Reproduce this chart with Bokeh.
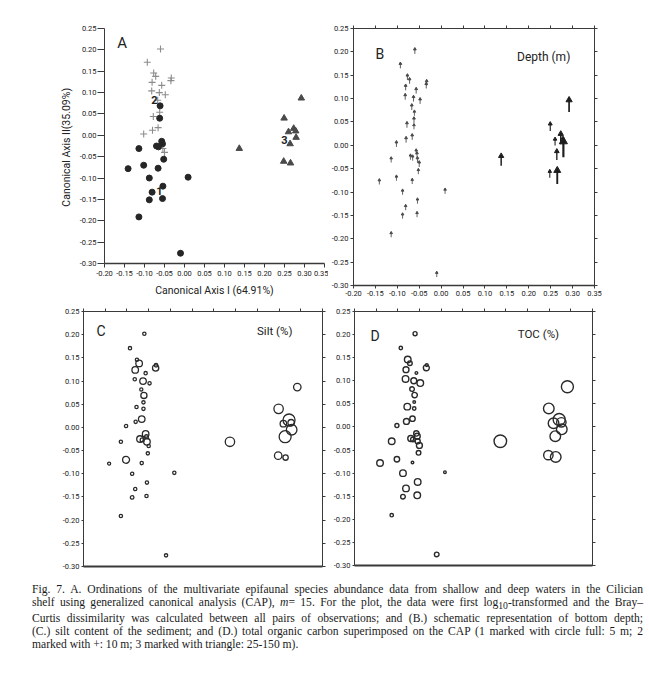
from bokeh.plotting import figure
from bokeh.models import Range1d, FixedTicker, NumeralTickFormatter, LinearAxis, Label, Div, ColumnDataSource
from bokeh.layouts import column, row
from bokeh.embed import file_html
from bokeh.resources import INLINE

# ---------------- data ----------------
x_ticks = [-0.20, -0.15, -0.10, -0.05, 0.00, 0.05, 0.10, 0.15, 0.20, 0.25, 0.30, 0.35]
y_ticks = [-0.30, -0.25, -0.20, -0.15, -0.10, -0.05, 0.00, 0.05, 0.10, 0.15, 0.20, 0.25]

axis1 = [-0.060, -0.093, -0.077, -0.072, -0.081, -0.033, -0.034, -0.057, -0.082, -0.063,
         -0.048, -0.067, -0.061, -0.062, -0.078, -0.062, -0.066, -0.080, -0.102, -0.057,
         -0.055, -0.070, -0.065, -0.054, -0.050, -0.114, -0.052, -0.102, -0.141, -0.066,
         -0.088, 0.009, -0.054, -0.081, -0.088, -0.055, -0.114, -0.010,
         0.292, 0.249, 0.273, 0.260, 0.278, 0.279, 0.264, 0.137, 0.248, 0.265]
axis2 = [0.202, 0.171, 0.146, 0.138, 0.124, 0.134, 0.128, 0.117, 0.104, 0.100,
         0.095, 0.082, 0.069, 0.054, 0.044, 0.040, 0.018, 0.012, 0.003, -0.014,
         -0.020, -0.025, -0.027, -0.031, -0.040, -0.031, -0.056, -0.070, -0.078, -0.077,
         -0.100, -0.098, -0.119, -0.133, -0.151, -0.148, -0.191, -0.276,
         0.087, 0.040, 0.016, 0.008, 0.010, -0.005, -0.020, -0.031, -0.061, -0.065]
group = [2, 2, 2, 2, 2, 2, 2, 2, 2, 2,
         2, 2, 1, 2, 2, 1, 2, 2, 2, 1,
         1, 1, 1, 2, 2, 1, 1, 1, 1, 1,
         1, 1, 1, 1, 1, 1, 1, 1,
         3, 3, 3, 3, 3, 3, 3, 3, 3, 3]
depth_m = [10, 10, 10, 10, 10, 10, 10, 10, 10, 10,
           10, 10, 5, 10, 10, 5, 10, 10, 10, 5,
           5, 5, 5, 10, 10, 5, 5, 5, 5, 5,
           5, 5, 5, 5, 5, 5, 5, 5,
           100, 40, 80, 30, 30, 150, 60, 75, 30, 120]
silt_pct = [10, 10, 10, 35, 35, 12, 33, 10, 10, 35,
            10, 9, 32, 10, 10, 10, 35, 10, 10, 35,
            14, 35, 15, 35, 10, 10, 10, 38, 8, 10,
            10, 10, 10, 10, 12, 10, 10, 10,
            42, 57, 77, 35, 35, 66, 77, 57, 42, 26]
toc_pct = [0.23, 0.16, 0.52, 0.30, 0.45, 0.10, 0.45, 0.07, 0.52, 0.45,
           0.52, 0.30, 0.39, 0.07, 0.52, 0.16, 0.39, 0.45, 0.23, 0.39,
           0.45, 0.45, 0.30, 0.35, 0.45, 0.52, 0.30, 0.39, 0.52, 0.07,
           0.52, 0.07, 0.52, 0.52, 0.30, 0.52, 0.16, 0.30,
           1.14, 0.98, 1.14, 0.98, 0.84, 0.98, 0.98, 1.20, 0.84, 0.98]

caption_lines = [
    "Fig. 7. A. Ordinations of the multivariate epifaunal species abundance data from shallow and deep waters in the Cilician",
    "shelf using generalized canonical analysis (CAP), <i>m</i>= 15. For the plot, the data were first log<sub>10</sub>-transformed and the Bray\u2013",
    "Curtis dissimilarity was calculated between all pairs of observations; and (B.) schematic representation of bottom depth;",
    "(C.) silt content of the sediment; and (D.) total organic carbon superimposed on the CAP (1 marked with circle full: 5 m; 2",
    "marked with +: 10 m; 3 marked with triangle: 25-150 m).",
]

# ---------------- styling helpers ----------------
FONT = "Roboto"
AX = "#3a3a3a"
XR = (-0.20, 0.35)
YR = (-0.30, 0.25)


def make_fig(fw, fh, bl, br, bt, bb, outline=True):
    p = figure(frame_width=fw, frame_height=fh,
               min_border_left=bl, min_border_right=br,
               min_border_top=bt, min_border_bottom=bb,
               x_range=Range1d(*XR), y_range=Range1d(*YR),
               output_backend="svg", toolbar_location=None, tools="")
    p.grid.visible = False
    p.outline_line_color = AX if outline else None
    p.outline_line_width = 1
    p.background_fill_color = "white"
    p.border_fill_color = "white"
    return p


def style_axis(ax, ticks, labels=True, tick_out=3, width=1.0):
    ax.ticker = FixedTicker(ticks=ticks)
    ax.formatter = NumeralTickFormatter(format="0.00")
    ax.major_tick_out = tick_out
    ax.major_tick_in = 0
    ax.minor_tick_line_color = None
    ax.axis_line_color = AX
    ax.axis_line_width = width
    ax.major_tick_line_color = AX
    ax.major_label_text_font = FONT
    ax.major_label_text_font_size = "7.5px"
    ax.major_label_text_color = "#222222"
    ax.major_label_standoff = 2
    if not labels:
        ax.major_label_text_color = None
        ax.major_label_text_font_size = "1px"
        ax.major_label_standoff = 0


def add_frame_axes(p, top=True, right=True):
    if top:
        a = LinearAxis()
        style_axis(a, x_ticks, labels=False, tick_out=3)
        p.add_layout(a, "above")
    if right:
        a = LinearAxis()
        style_axis(a, y_ticks, labels=False, tick_out=3)
        p.add_layout(a, "right")


def panel_label(p, x, y, text, size="14px", align="left", bold=False):
    p.add_layout(Label(x=x, y=y, text=text, text_font=FONT, text_font_size=size,
                       text_align=align, text_baseline="middle", text_color="#222222",
                       text_font_style="bold" if bold else "normal"))


# ---------------- Panel A ----------------
pA = make_fig(220, 235, 96, 4, 20, 39, outline=False)
style_axis(pA.yaxis[0], y_ticks, tick_out=7)
style_axis(pA.xaxis[0], x_ticks, tick_out=4, width=1.5)
pA.yaxis[0].major_label_standoff = 1
pA.xaxis[0].major_label_standoff = 3
pA.xaxis.axis_label = "Canonical Axis I (64.91%)"
pA.yaxis.axis_label = "Canonical Axis  II(35.09%)"
for ax in (pA.xaxis[0], pA.yaxis[0]):
    ax.axis_label_text_font = FONT
    ax.axis_label_text_font_size = "10.5px"
    ax.axis_label_text_font_style = "normal"
    ax.axis_label_text_color = "#222222"
pA.xaxis[0].axis_label_standoff = 5
pA.yaxis[0].axis_label_standoff = 4

g1 = [i for i, g in enumerate(group) if g == 1]
g2 = [i for i, g in enumerate(group) if g == 2]
g3 = [i for i, g in enumerate(group) if g == 3]
pA.scatter([axis1[i] for i in g2], [axis2[i] for i in g2], marker="cross", size=7,
           line_color="#8c8c8c", line_width=1.1)
pA.scatter([axis1[i] for i in g1], [axis2[i] for i in g1], marker="circle", size=6,
           fill_color="#262626", line_color="#262626")
pA.scatter([axis1[i] for i in g3], [axis2[i] for i in g3], marker="triangle", size=6.5,
           fill_color="#4a4a4a", line_color="#4a4a4a")
panel_label(pA, -0.168, 0.215, "A", size="15px")
panel_label(pA, -0.075, 0.082, "2", size="11px", align="center", bold=True)
panel_label(pA, -0.063, -0.130, "1", size="11px", align="center", bold=True)
panel_label(pA, 0.250, -0.011, "3", size="11px", align="center", bold=True)

# ---------------- Panel B (depth arrows) ----------------
fhB = 257
pB = make_fig(241, fhB, 23, 10, 17, 20)
style_axis(pB.yaxis[0], y_ticks, tick_out=3)
style_axis(pB.xaxis[0], x_ticks, tick_out=3, width=1.3)
add_frame_axes(pB)
ppu = fhB / (YR[1] - YR[0])
L_px = [5 + 0.095 * d for d in depth_m]
H_px = [2.4 + 0.038 * d for d in depth_m]
y_base = [y - l / 2 / ppu for y, l in zip(axis2, L_px)]
y_tip = [y + l / 2 / ppu for y, l in zip(axis2, L_px)]
y_shaft = [t - 0.5 * h / ppu for t, h in zip(y_tip, H_px)]
y_head = [t - 0.42 * h / ppu for t, h in zip(y_tip, H_px)]
lw = [0.8 + d / 110 for d in depth_m]
colr = ["#4a4a4a" if d < 20 else "#1e1e1e" for d in depth_m]
arr = ColumnDataSource(dict(x=axis1, y0=y_base, y1=y_shaft, yh=y_head, h=H_px, lw=lw, c=colr))
pB.segment(x0="x", y0="y0", x1="x", y1="y1", line_width="lw", line_color="c", source=arr)
pB.scatter(x="x", y="yh", size="h", marker="triangle", fill_color="c", line_color="c", source=arr)
panel_label(pB, -0.150, 0.196, "B", size="14px")
panel_label(pB, 0.234, 0.190, "Depth (m)", size="12px", align="center")

# ---------------- Panel C (silt) ----------------
pC = make_fig(239, 255, 75, 8, 9, 9)
style_axis(pC.yaxis[0], y_ticks, tick_out=2)
style_axis(pC.xaxis[0], x_ticks, labels=False, tick_out=0, width=2)
add_frame_axes(pC)
silt_size = [2 * (1 + 0.065 * s) for s in silt_pct]
pC.scatter(axis1, axis2, size=silt_size, marker="circle", fill_color=None,
           line_color="#2a2a2a", line_width=1.3)
panel_label(pC, -0.170, 0.209, "C", size="14px")
panel_label(pC, 0.240, 0.207, "Silt (%)", size="11.5px", align="center")

# ---------------- Panel D (TOC) ----------------
pD = make_fig(238, 254, 21, 10, 9, 10)
style_axis(pD.yaxis[0], y_ticks, tick_out=2)
style_axis(pD.xaxis[0], x_ticks, labels=False, tick_out=0, width=2)
add_frame_axes(pD)
toc_size = [2 * (1 + 4.4 * t) for t in toc_pct]
pD.scatter(axis1, axis2, size=toc_size, marker="circle", fill_color=None,
           line_color="#2a2a2a", line_width=1.4)
panel_label(pD, -0.163, 0.198, "D", size="14px")
panel_label(pD, 0.225, 0.202, "TOC (%)", size="11.5px", align="center")

# ---------------- caption ----------------
parts = []
for i, ln in enumerate(caption_lines):
    al = "left" if i == len(caption_lines) - 1 else "justify"
    parts.append(f'<div style="text-align:{al};text-align-last:{al};">{ln}</div>')
html = ('<div style="font-family:\'Liberation Serif\',\'Times New Roman\',serif;font-size:11.6px;'
        'line-height:13px;color:#1a1a1a;width:611px;margin-left:19px;padding-top:3px;">'
        + "".join(parts) + '</div>')
cap = Div(text=html, width=633, height=80)

layout = column(row(pA, pB), row(pC, pD), cap, margin=(8, 0, 0, 8))
open("out.html", "w").write(file_html(layout, INLINE))
